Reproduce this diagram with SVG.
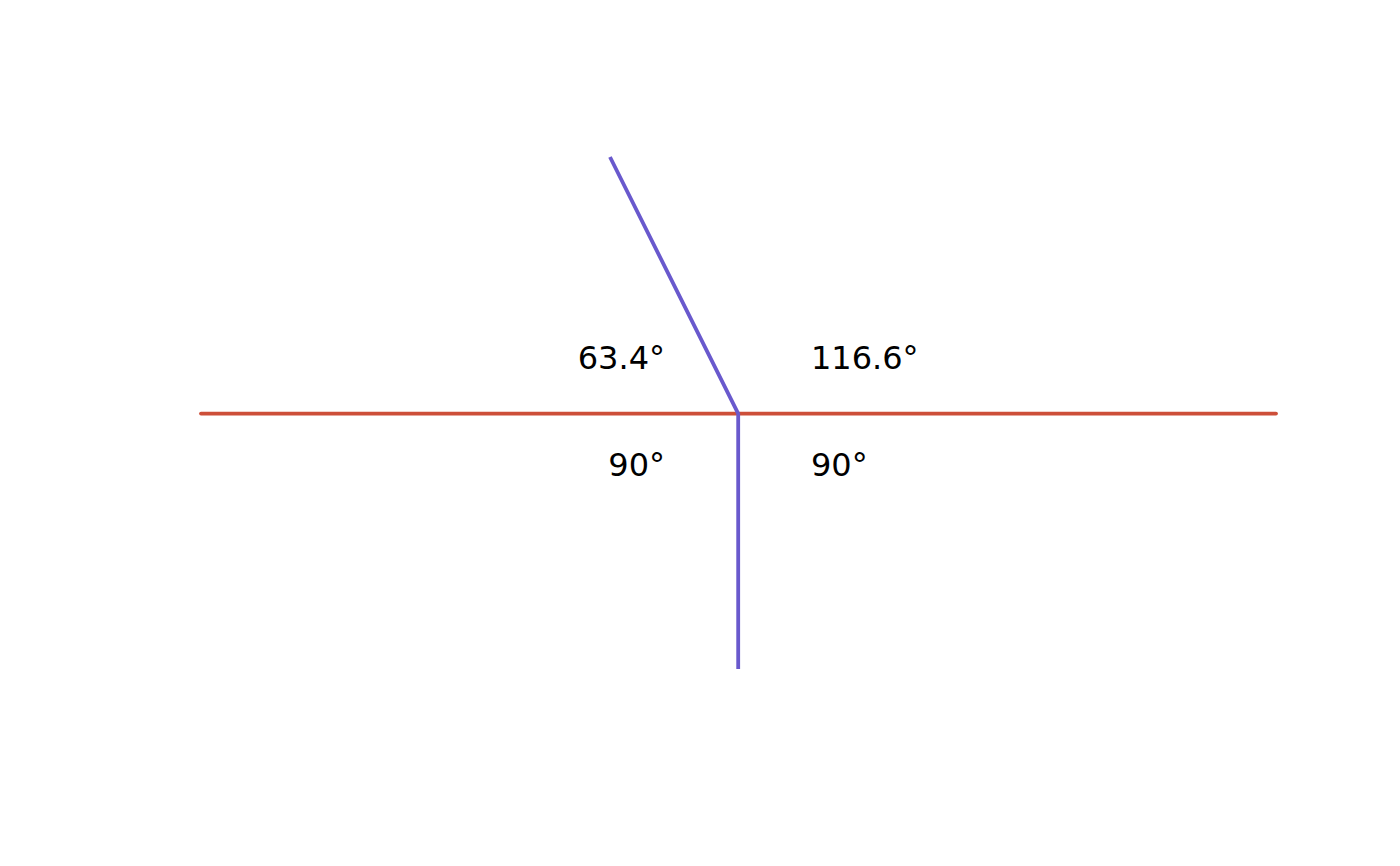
<svg xmlns="http://www.w3.org/2000/svg" width="1400" height="866" viewBox="0 0 1400 866">
<style>
.lbl{font-family:"DejaVu Sans",sans-serif;font-size:32px;fill:#000}
.red{stroke:#CD4F39;stroke-width:3.8;fill:none;stroke-linecap:round}
.pur{stroke:#6959CD;stroke-width:3.8;fill:none;stroke-linecap:butt;stroke-linejoin:round}
</style>
<rect width="1400" height="866" fill="#fff"/>
<g id="connectors">
<line class="red" x1="201" y1="413.6" x2="1276" y2="413.6"/>
<polyline class="pur" points="610,157 738.2,413.6 738.2,669"/>
</g>
<g id="labels">
<text class="lbl" x="665" y="369" text-anchor="end">63.4°</text>
<text class="lbl" x="811" y="369">116.6°</text>
<text class="lbl" x="665" y="476" text-anchor="end">90°</text>
<text class="lbl" x="811" y="476">90°</text>
</g>
</svg>
